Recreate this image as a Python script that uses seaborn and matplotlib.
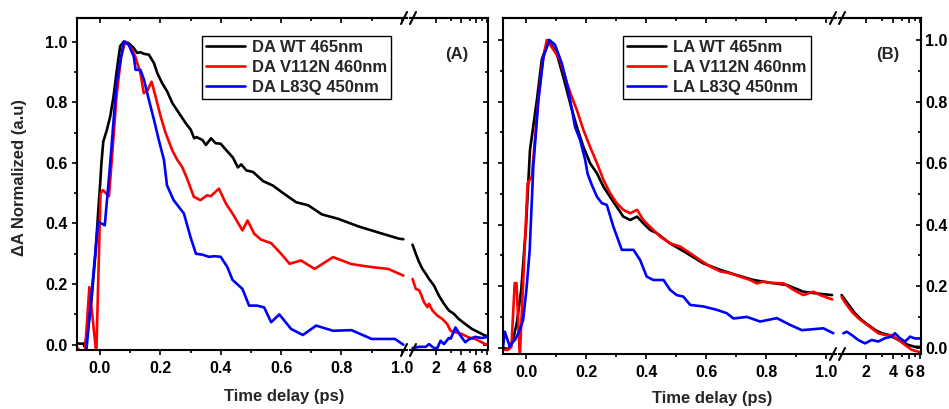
import matplotlib
matplotlib.use("Agg")
import matplotlib.pyplot as plt
import pandas as pd
import seaborn as sns
from matplotlib.lines import Line2D
from matplotlib.ticker import MultipleLocator, FixedLocator, FixedFormatter, NullFormatter

# ---- values: time delay (ps) and normalized dA ----
# panel A (DA)
da_wt_t = [-0.077, -0.065, -0.055, -0.05, -0.04, -0.028, -0.015, -0.005, 0.0, 0.005,
           0.011, 0.023, 0.034, 0.045, 0.056, 0.067, 0.079, 0.095, 0.112, 0.123,
           0.135, 0.145, 0.162, 0.179, 0.19, 0.206, 0.223, 0.24, 0.262, 0.284,
           0.301, 0.312, 0.32, 0.34, 0.351, 0.368, 0.383, 0.40, 0.42, 0.44,
           0.457, 0.468, 0.485, 0.507, 0.54, 0.573, 0.607, 0.65, 0.69, 0.735,
           0.79, 0.857, 0.923, 0.99, 1.005,
           1.07, 1.17, 1.28, 1.4, 1.53, 1.67, 1.91, 2.18, 2.5, 2.85,
           3.26, 3.72, 4.45, 5.32, 6.35, 7.6, 8.2]
da_wt_a = [0.005, 0.003, 0.004, -0.007, 0.05, 0.146, 0.3, 0.45, 0.52, 0.6,
           0.67, 0.709, 0.753, 0.819, 0.907, 0.985, 1.0, 0.995, 0.979, 0.963,
           0.965, 0.96, 0.957, 0.929, 0.896, 0.863, 0.835, 0.797, 0.764, 0.731,
           0.709, 0.681, 0.685, 0.675, 0.659, 0.681, 0.665, 0.663, 0.64, 0.618,
           0.585, 0.595, 0.575, 0.57, 0.54, 0.525, 0.50, 0.47, 0.46, 0.43,
           0.415, 0.39, 0.37, 0.35, 0.348,
           0.33, 0.30, 0.272, 0.25, 0.234, 0.217, 0.195, 0.162, 0.135, 0.113,
           0.102, 0.085, 0.068, 0.052, 0.041, 0.03, 0.028]

da_v112n_t = [-0.077, -0.065, -0.05, -0.035, -0.012, 0.002, 0.01, 0.02, 0.03, 0.04,
              0.055, 0.07, 0.084, 0.1, 0.117, 0.134, 0.145, 0.158, 0.171, 0.184,
              0.201, 0.217, 0.24, 0.256, 0.272, 0.289, 0.311, 0.333, 0.355, 0.367,
              0.394, 0.417, 0.439, 0.472, 0.489, 0.511, 0.533, 0.567, 0.6, 0.628,
              0.666, 0.711, 0.772, 0.833, 0.9, 0.955, 1.005,
              1.07, 1.17, 1.28, 1.35, 1.46, 1.6, 1.67, 1.83, 2.09, 2.39,
              2.73, 2.98, 3.41, 4.07, 4.86, 5.8, 6.93, 7.6, 8.2]
da_v112n_a = [-0.01, -0.02, -0.03, 0.19, -0.03, 0.5, 0.51, 0.5, 0.49, 0.62,
              0.82, 0.95, 1.0, 0.985, 0.951, 0.896, 0.83, 0.84, 0.868, 0.82,
              0.753, 0.70, 0.64, 0.61, 0.587, 0.547, 0.488, 0.477, 0.493, 0.49,
              0.515, 0.466, 0.433, 0.377, 0.41, 0.366, 0.347, 0.335, 0.30, 0.267,
              0.278, 0.25, 0.289, 0.266, 0.256, 0.25, 0.228,
              0.217, 0.184, 0.18, 0.165, 0.14, 0.124, 0.135, 0.113, 0.096, 0.085,
              0.068, 0.046, 0.041, 0.035, 0.024, 0.019, 0.008, 0.002, 0.0]

da_l83q_t = [-0.077, -0.045, -0.006, 0.005, 0.016, 0.033, 0.055, 0.079, 0.095, 0.112,
             0.118, 0.134, 0.146, 0.162, 0.179, 0.195, 0.212, 0.222, 0.244, 0.261,
             0.278, 0.3, 0.318, 0.34, 0.361, 0.38, 0.4, 0.422, 0.439, 0.472,
             0.494, 0.52, 0.544, 0.567, 0.594, 0.633, 0.672, 0.716, 0.772, 0.833,
             0.9, 0.977, 1.005,
             1.07, 1.28, 1.53, 1.67, 1.91, 2.09, 2.28, 2.5, 2.85, 3.0,
             3.41, 3.9, 4.45, 4.86, 5.8, 6.93, 8.2]
da_l83q_a = [-0.06, -0.02, 0.405, 0.40, 0.394, 0.587, 0.863, 1.0, 0.99, 0.951,
             0.907, 0.907, 0.874, 0.808, 0.742, 0.675, 0.61, 0.526, 0.477, 0.455,
             0.433, 0.355, 0.30, 0.297, 0.29, 0.292, 0.29, 0.256, 0.214, 0.184,
             0.129, 0.129, 0.123, 0.074, 0.10, 0.052, 0.032, 0.063, 0.046, 0.048,
             0.019, 0.019, 0.0,
             -0.011, -0.007, -0.007, 0.002, -0.011, -0.011, 0.013, 0.002, 0.022, 0.02,
             0.057, 0.03, 0.008, 0.017, 0.026, 0.022, 0.026]

# panel B (LA)
la_wt_t = [-0.077, -0.06, -0.045, -0.031, -0.016, 0.0, 0.013, 0.036, 0.052, 0.074,
           0.102, 0.124, 0.147, 0.169, 0.191, 0.213, 0.236, 0.258, 0.28, 0.302,
           0.324, 0.347, 0.37, 0.391, 0.413, 0.436, 0.48, 0.536, 0.591, 0.647,
           0.702, 0.758, 0.813, 0.869, 0.924, 0.98, 1.02,
           1.07, 1.17, 1.33, 1.51, 1.79, 2.12, 2.52, 2.99, 3.5, 4.2,
           5.0, 5.9, 7.0, 8.2]
la_wt_a = [0.0, -0.005, 0.02, 0.08, 0.19, 0.40, 0.643, 0.805, 0.935, 1.0,
           0.957, 0.88, 0.794, 0.718, 0.653, 0.6, 0.567, 0.523, 0.49, 0.458,
           0.426, 0.415, 0.426, 0.404, 0.383, 0.372, 0.339, 0.307, 0.274, 0.253,
           0.236, 0.22, 0.211, 0.204, 0.182, 0.175, 0.171,
           0.171, 0.155, 0.133, 0.112, 0.09, 0.074, 0.058, 0.047, 0.042, 0.031,
           0.02, 0.009, 0.003, 0.002]

la_v112n_t = [-0.077, -0.06, -0.049, -0.038, -0.032, -0.021, -0.008, 0.005, 0.019, 0.04,
              0.055, 0.069, 0.09, 0.113, 0.136, 0.152, 0.169, 0.191, 0.213, 0.236,
              0.258, 0.28, 0.302, 0.324, 0.347, 0.37, 0.391, 0.413, 0.447, 0.48,
              0.513, 0.547, 0.58, 0.613, 0.647, 0.68, 0.713, 0.747, 0.769, 0.791,
              0.813, 0.858, 0.891, 0.924, 0.958, 0.98, 1.02,
              1.07, 1.12, 1.22, 1.39, 1.64, 1.95, 2.31, 2.74, 3.26, 3.86,
              4.59, 5.45, 6.46, 7.65, 8.2]
la_v112n_a = [-0.007, -0.007, 0.003, 0.21, 0.21, -0.03, 0.25, 0.534, 0.556, 0.8,
              0.93, 1.0, 0.97, 0.935, 0.86, 0.816, 0.773, 0.708, 0.653, 0.6,
              0.545, 0.502, 0.47, 0.448, 0.437, 0.448, 0.415, 0.393, 0.361, 0.339,
              0.329, 0.307, 0.285, 0.264, 0.248, 0.242, 0.231, 0.22, 0.209, 0.215,
              0.211, 0.209, 0.188, 0.171, 0.182, 0.171, 0.157,
              0.165, 0.155, 0.139, 0.117, 0.096, 0.079, 0.063, 0.047, 0.041, 0.041,
              0.025, 0.009, -0.007, -0.013, -0.015]

la_l83q_t = [-0.077, -0.071, -0.054, -0.043, -0.037, -0.021, -0.01, 0.001, 0.012, 0.024,
             0.041, 0.058, 0.078, 0.096, 0.119, 0.136, 0.147, 0.163, 0.18, 0.197,
             0.205, 0.219, 0.236, 0.252, 0.269, 0.291, 0.319, 0.358, 0.38, 0.402,
             0.424, 0.458, 0.48, 0.502, 0.524, 0.547, 0.591, 0.636, 0.669, 0.691,
             0.736, 0.78, 0.836, 0.88, 0.919, 0.991, 1.024,
             1.12, 1.22, 1.39, 1.64, 1.95, 2.31, 2.74, 3.26, 3.86, 4.2,
             4.77, 5.45, 6.2, 7.0, 8.2]
la_l83q_a = [0.0, 0.052, 0.003, 0.02, 0.025, 0.058, 0.09, 0.188, 0.318, 0.588,
             0.805, 0.946, 1.0, 0.985, 0.924, 0.859, 0.805, 0.718, 0.675, 0.61,
             0.565, 0.529, 0.491, 0.47, 0.464, 0.393, 0.318, 0.318, 0.285, 0.231,
             0.22, 0.22, 0.188, 0.171, 0.166, 0.139, 0.134, 0.123, 0.112, 0.095,
             0.1, 0.085, 0.096, 0.074, 0.057, 0.063, 0.047,
             0.047, 0.052, 0.041, 0.025, 0.014, 0.025, 0.02, 0.031, 0.036, 0.047,
             0.031, 0.02, 0.036, 0.03, 0.03]

labels_a = ["DA WT 465nm", "DA V112N 460nm", "DA L83Q 450nm"]
labels_b = ["LA WT 465nm", "LA V112N 460nm", "LA L83Q 450nm"]
colors = ["#000000", "#ff0000", "#0000ff"]

W, H = 949, 409
BREAK_T = 1.035  # points left of this go on the linear part, right of it on the log part
TICK_FS = 11.5
LABEL_FS = 12

sns.set_style("ticks")
plt.rcParams["font.family"] = ["Liberation Sans", "DejaVu Sans"]
plt.rcParams["font.weight"] = "bold"
plt.rcParams["axes.linewidth"] = 1.5
plt.rcParams["axes.edgecolor"] = "black"
plt.rcParams["xtick.color"] = "black"
plt.rcParams["ytick.color"] = "black"
plt.rcParams["xtick.major.width"] = 1.2
plt.rcParams["ytick.major.width"] = 1.2
plt.rcParams["xtick.minor.width"] = 1.2
plt.rcParams["ytick.minor.width"] = 1.2
plt.rcParams["xtick.major.size"] = 3.6
plt.rcParams["ytick.major.size"] = 3.6
plt.rcParams["xtick.minor.size"] = 2.4
plt.rcParams["ytick.minor.size"] = 2.4


def px_rect(x0, x1, y0, y1):
    return [x0 / W, 1 - y1 / H, (x1 - x0) / W, (y1 - y0) / H]


def draw_panel(fig, xs, ys, labels, lin_px, log_px, y_px, xlim_lin, ylim, tag, right_labels, legend_px):
    ax_lin = fig.add_axes(px_rect(lin_px[0], lin_px[1], y_px[0], y_px[1]))
    ax_log = fig.add_axes(px_rect(log_px[0], log_px[1], y_px[0], y_px[1]))

    for t, a, lab, c in zip(xs, ys, labels, colors):
        df = pd.DataFrame({"t": t, "a": a})
        sns.lineplot(data=df[df["t"] < BREAK_T], x="t", y="a", ax=ax_lin, color=c,
                     linewidth=1.9, label=lab, estimator=None, sort=False)
        sns.lineplot(data=df[df["t"] > BREAK_T], x="t", y="a", ax=ax_log, color=c,
                     linewidth=1.9, estimator=None, sort=False, legend=False)

    # linear part
    ax_lin.set_xlim(*xlim_lin)
    ax_lin.set_ylim(*ylim)
    ax_lin.spines["right"].set_visible(False)
    ax_lin.xaxis.set_major_locator(MultipleLocator(0.2))
    ax_lin.xaxis.set_minor_locator(MultipleLocator(0.1))
    ax_lin.xaxis.set_major_formatter(lambda v, p: f"{v:.1f}")
    ax_lin.yaxis.set_major_locator(MultipleLocator(0.2))
    ax_lin.yaxis.set_minor_locator(MultipleLocator(0.1))
    ax_lin.yaxis.set_major_formatter(lambda v, p: f"{v:.1f}")
    ax_lin.tick_params(axis="x", which="both", direction="out", labelsize=TICK_FS, pad=4)
    ax_lin.tick_params(axis="y", which="both", direction="out", left=True, right=False,
                       labelleft=not right_labels, labelsize=TICK_FS, pad=3)
    top_lin = ax_lin.secondary_xaxis("top")
    top_lin.xaxis.set_major_locator(MultipleLocator(0.2))
    top_lin.xaxis.set_minor_locator(MultipleLocator(0.1))
    top_lin.tick_params(which="both", direction="in", labeltop=False)
    top_lin.spines["top"].set_linewidth(1.5)

    # log part
    ax_log.set_xscale("log")
    ax_log.set_xlim(1.0, 8.2)
    ax_log.set_ylim(*ylim)
    ax_log.spines["left"].set_visible(False)
    ax_log.xaxis.set_major_locator(FixedLocator([2, 4, 6, 8]))
    ax_log.xaxis.set_major_formatter(FixedFormatter(["2", "4", "6", "8"]))
    ax_log.xaxis.set_minor_locator(FixedLocator([3, 5, 7]))
    ax_log.xaxis.set_minor_formatter(NullFormatter())
    ax_log.yaxis.set_major_locator(MultipleLocator(0.2))
    ax_log.yaxis.set_minor_locator(MultipleLocator(0.1))
    ax_log.yaxis.set_major_formatter(lambda v, p: f"{v:.1f}")
    ax_log.tick_params(axis="x", which="both", direction="out", labelsize=TICK_FS, pad=4)
    ax_log.tick_params(axis="y", which="both", direction="in", left=False, right=True,
                       labelleft=False, labelright=right_labels, labelsize=TICK_FS, pad=3)
    top_log = ax_log.secondary_xaxis("top")
    top_log.xaxis.set_major_locator(FixedLocator([2, 4, 6, 8]))
    top_log.xaxis.set_minor_locator(FixedLocator([3, 5, 7]))
    top_log.tick_params(which="both", direction="in", labeltop=False)
    top_log.spines["top"].set_linewidth(1.5)

    for ax in (ax_lin, ax_log):
        ax.set_xlabel("")
        ax.set_ylabel("")

    # break marks "//"
    for cx in (lin_px[1] - 3, log_px[0] + 3):
        for cy in (y_px[0], y_px[1]):
            fig.add_artist(Line2D([(cx - 3) / W, (cx + 3) / W],
                                  [1 - (cy + 6) / H, 1 - (cy - 6) / H],
                                  color="black", linewidth=1.5))

    leg = ax_lin.legend(loc="upper left", bbox_to_anchor=(legend_px[0] / W, 1 - legend_px[1] / H),
                        bbox_transform=fig.transFigure, borderaxespad=0, fancybox=False,
                        edgecolor="black", framealpha=1, handlelength=2.3,
                        handletextpad=0.45, labelspacing=0.3, borderpad=0.25,
                        prop={"weight": "bold", "size": LABEL_FS})
    leg.get_frame().set_linewidth(1.0)

    ax_log.text(0.6, 0.89, tag, transform=ax_log.transAxes, ha="center", va="center",
                fontsize=LABEL_FS, fontweight="bold")
    return ax_lin, ax_log


fig = plt.figure(figsize=(W / 100, H / 100), dpi=100)

draw_panel(fig, [da_wt_t, da_v112n_t, da_l83q_t], [da_wt_a, da_v112n_a, da_l83q_a], labels_a,
           lin_px=(77, 407), log_px=(410, 488), y_px=(18, 350),
           xlim_lin=(-0.076, 1.017), ylim=(-0.0175, 1.078), tag="(A)",
           right_labels=False, legend_px=(202, 36))

draw_panel(fig, [la_wt_t, la_v112n_t, la_l83q_t], [la_wt_a, la_v112n_a, la_l83q_a], labels_b,
           lin_px=(503, 836), log_px=(839, 921), y_px=(18, 354),
           xlim_lin=(-0.077, 1.033), ylim=(-0.0205, 1.0715), tag="(B)",
           right_labels=True, legend_px=(623, 36))

fig.text(284 / W, 1 - 397 / H, "Time delay (ps)", ha="center", va="center",
         fontsize=LABEL_FS, fontweight="bold")
fig.text(712 / W, 1 - 398 / H, "Time delay (ps)", ha="center", va="center",
         fontsize=LABEL_FS, fontweight="bold")
fig.text(20 / W, 1 - 177 / H, "\u0394A Normalized (a.u)", rotation=90, ha="center",
         va="center", fontsize=LABEL_FS, fontweight="bold")

fig.savefig("out.png", dpi=100)
plt.close(fig)
